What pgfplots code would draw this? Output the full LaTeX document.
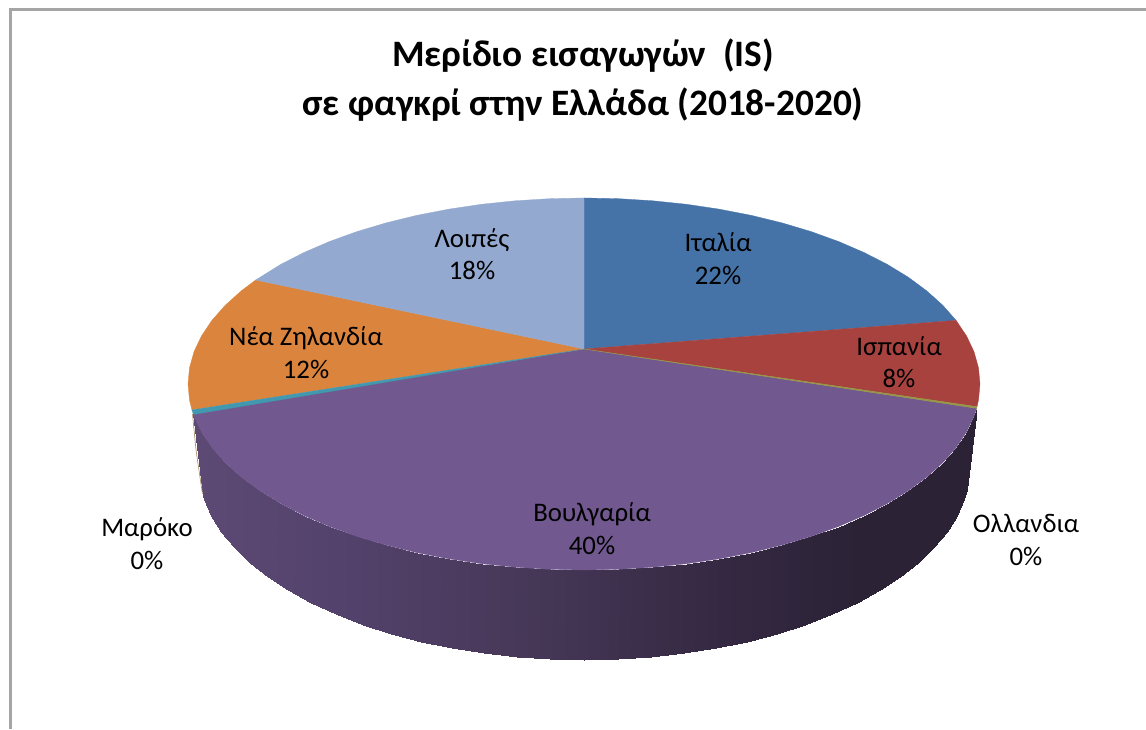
\documentclass[border=0pt]{standalone}
\usepackage{pgfplots}
\pgfplotsset{compat=1.18}
\usepackage{fontspec}
\setmainfont{Carlito}
\definecolor{cIT}{RGB}{69,114,167}
\definecolor{cES}{RGB}{168,66,63}
\definecolor{cNL}{RGB}{150,150,70}
\definecolor{cBG}{RGB}{113,88,143}
\definecolor{cMA}{RGB}{65,152,175}
\definecolor{cNZ}{RGB}{219,132,61}
\definecolor{cOT}{RGB}{147,169,207}
\definecolor{frame}{RGB}{165,165,165}
\newcommand{\lab}[3]{\node[anchor=base,text=black,inner sep=0pt,font=\fontsize{26.8}{32}\selectfont] at (axis cs:#1,#2) {#3};}
\newcommand{\ttl}[3]{\node[anchor=base,text=black,inner sep=0pt,font=\fontsize{37.3}{44}\selectfont\bfseries] at (axis cs:#1,#2) {#3};}
\begin{document}
\begin{tikzpicture}
\path[use as bounding box] (0,0) rectangle (1146pt,729pt);
\begin{axis}[
  at={(0,0)},anchor=south west,
  scale only axis,width=1146pt,height=729pt,
  xmin=0,xmax=1146,ymin=0,ymax=729,y dir=reverse,
  view={0}{90},hide axis,clip=true,
  point meta min=200,point meta max=970,
  colormap={wall}{rgb255(0)=(92,74,116) rgb255(20)=(82,65,106) rgb255(40)=(72,57,90) rgb255(65)=(54,42,68) rgb255(86)=(43,34,54) rgb255(100)=(43,34,54)},
]
% chart frame
\addplot[frame,line width=3pt] coordinates {(1146,10) (10,10) (10,729)};
% side wall of the purple slice
\addplot3[surf,shader=interp,point meta=x] table[row sep=\\] {
x y z\\
976.6 408.3 0\\ 974 416.3 0\\ 966.5 432.1 0\\ 956.1 447.6 0\\ 942.9 462.6 0\\ 926.9 477 0\\ 908.4 490.7 0\\ 887.3 503.6 0\\ 864 515.5 0\\ 838.5 526.5 0\\ 811.1 536.4 0\\ 782 545.1 0\\ 751.4 552.6 0\\ 719.4 558.8 0\\ 686.5 563.7 0\\ 652.8 567.2 0\\ 618.5 569.3 0\\ 584 570 0\\ 549.5 569.3 0\\ 515.2 567.2 0\\ 481.5 563.7 0\\ 448.6 558.8 0\\ 416.6 552.6 0\\ 386 545.1 0\\ 356.9 536.4 0\\ 329.5 526.5 0\\ 304 515.5 0\\ 280.7 503.6 0\\ 259.6 490.7 0\\ 241.1 477 0\\ 225.1 462.6 0\\ 211.9 447.6 0\\ 201.5 432.1 0\\ 194 416.3 0\\ 192.9 413.1 0\\
\\
966.7 490.5 0\\ 964.1 498.9 0\\ 956.8 515.5 0\\ 946.7 531.7 0\\ 933.8 547.4 0\\ 918.3 562.5 0\\ 900.2 576.9 0\\ 879.7 590.3 0\\ 856.9 602.9 0\\ 832.1 614.4 0\\ 805.4 624.7 0\\ 777 633.9 0\\ 747.1 641.7 0\\ 716 648.2 0\\ 683.9 653.4 0\\ 651 657 0\\ 617.7 659.3 0\\ 584 660 0\\ 550.3 659.3 0\\ 517 657 0\\ 484.1 653.4 0\\ 452 648.2 0\\ 420.9 641.7 0\\ 391 633.9 0\\ 362.6 624.7 0\\ 335.9 614.4 0\\ 311.1 602.9 0\\ 288.3 590.3 0\\ 267.8 576.9 0\\ 249.7 562.5 0\\ 234.2 547.4 0\\ 221.3 531.7 0\\ 211.2 515.5 0\\ 203.9 498.9 0\\ 202.7 495.5 0\\
};
% Morocco's edge on the wall
\addplot[color={rgb,255:red,170;green,150;blue,110},line width=.7pt] coordinates {(192.5,414) (196,450) (202.5,494)};
% Italy 22%
\addplot[fill=cIT,draw=cIT,line width=.3pt] coordinates {(584,349) (584,198) (618.5,198.7) (652.8,200.8) (686.5,204.3) (719.4,209.2) (751.4,215.4) (782,222.9) (811.1,231.6) (838.5,241.5) (864,252.5) (887.3,264.4) (908.4,277.3) (926.9,291) (942.9,305.4) (956.1,320.4)} -- cycle;
% Spain 8%
\addplot[fill=cES,draw=cES,line width=.3pt] coordinates {(584,349) (956.1,320.4) (966.5,335.9) (974,351.7) (978.5,367.8) (980,384) (978.5,400.2) (977,406.7)} -- cycle;
% Bulgaria 40%
\addplot[fill=cBG,draw=cBG,line width=.3pt] coordinates {(584,349) (976.6,408.3) (974,416.3) (966.5,432.1) (956.1,447.6) (942.9,462.6) (926.9,477) (908.4,490.7) (887.3,503.6) (864,515.5) (838.5,526.5) (811.1,536.4) (782,545.1) (751.4,552.6) (719.4,558.8) (686.5,563.7) (652.8,567.2) (618.5,569.3) (584,570) (549.5,569.3) (515.2,567.2) (481.5,563.7) (448.6,558.8) (416.6,552.6) (386,545.1) (356.9,536.4) (329.5,526.5) (304,515.5) (280.7,503.6) (259.6,490.7) (241.1,477) (225.1,462.6) (211.9,447.6) (201.5,432.1) (194,416.3) (193.2,413.5)} -- cycle;
% New Zealand 12%
\addplot[fill=cNZ,draw=cNZ,line width=.3pt] coordinates {(584,349) (191.9,409.9) (189.5,400.2) (188,384) (189.5,367.8) (194,351.7) (201.5,335.9) (211.9,320.4) (225.1,305.4) (241.1,291) (255.7,280)} -- cycle;
% Others 18%
\addplot[fill=cOT,draw=cOT,line width=.3pt] coordinates {(584,349) (255.7,280) (280.7,264.4) (304,252.5) (329.5,241.5) (356.9,231.6) (386,222.9) (416.6,215.4) (448.6,209.2) (481.5,204.3) (515.2,200.8) (549.5,198.7) (584,198)} -- cycle;
% Netherlands 0%
\addplot[fill=cNL,draw=cNL,line width=.4pt] coordinates {(584,349) (977,406.7) (976.6,408.3)} -- cycle;
% Morocco 0%
\addplot[fill=cMA,draw=cMA,line width=.2pt] coordinates {(584,349) (191.9,409.9) (193.4,414.5)} -- cycle;
\ttl{583}{67}{Μερίδιο εισαγωγών\ \ (IS)}
\ttl{583}{116}{σε φαγκρί στην Ελλάδα (2018-2020)}
\lab{718}{252}{Ιταλία}
\lab{718}{285}{22\%}
\lab{899}{356}{Ισπανία}
\lab{899}{388}{8\%}
\lab{592}{521.5}{Βουλγαρία}
\lab{592}{554.5}{40\%}
\lab{306}{346}{Νέα Ζηλανδία}
\lab{306}{379}{12\%}
\lab{472}{248}{Λοιπές}
\lab{472}{280}{18\%}
\lab{147}{536}{Μαρόκο}
\lab{147}{569}{0\%}
\lab{1026}{532}{Ολλανδια}
\lab{1026}{565}{0\%}
\end{axis}
\end{tikzpicture}
\end{document}
